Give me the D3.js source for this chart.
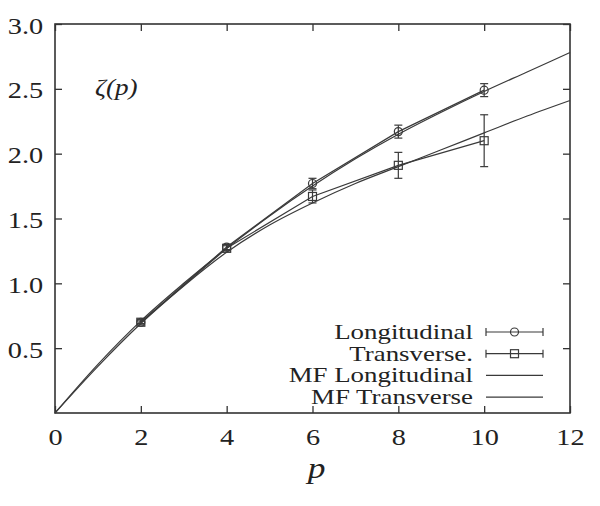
<!DOCTYPE html>
<head>
    <meta charset="utf-8">
    <style>
        body { margin: 0; background: white; }
        svg { background-color: white; }
        text { font-family: "Liberation Serif", "Times New Roman", serif; fill: #222; }
        .domain { display: none; }
        .tick line { stroke: #333; stroke-width: 1.3; }
    </style>
</head>
<body>
<script src="https://d3js.org/d3.v7.min.js"></script>
<script>

const width = 600;
const height = 506;
const plotLeft = 55, plotRight = 570, plotTop = 24, plotBottom = 413;
const stretch = 1.18;
const ink = '#333';

// measured points (p = 2..10)
const pVals = [2, 4, 6, 8, 10];
const longVals = [0.70, 1.28, 1.77, 2.17, 2.49];
const longErr = [0.01, 0.02, 0.04, 0.05, 0.05];
const transVals = [0.70, 1.27, 1.67, 1.91, 2.10];
const transErr = [0.02, 0.02, 0.05, 0.10, 0.20];

// MF curves
const mfP = [0, 1, 2, 3, 4, 5, 6, 7, 8, 9, 10, 11, 12];
const mfLong = [0, 0.375, 0.71, 1.00, 1.27, 1.52, 1.75, 1.96, 2.15, 2.32, 2.48, 2.63, 2.78];
const mfTrans = [0, 0.36, 0.69, 0.98, 1.24, 1.45, 1.62, 1.77, 1.90, 2.03, 2.16, 2.29, 2.41];

const xTicks = [0, 2, 4, 6, 8, 10, 12];
const yTicks = [0.5, 1.0, 1.5, 2.0, 2.5, 3.0];

const legendItems = ['Longitudinal', 'Transverse.', 'MF Longitudinal', 'MF Transverse'];

const x = d3.scaleLinear().domain([0, 12]).range([plotLeft, plotRight]);
const y = d3.scaleLinear().domain([0, 3]).range([plotBottom, plotTop]);

const svg = d3.select('body').append('svg')
    .attr('width', width)
    .attr('height', height);

// frame
svg.append('rect')
    .attr('x', plotLeft).attr('y', plotTop)
    .attr('width', plotRight - plotLeft).attr('height', plotBottom - plotTop)
    .attr('fill', 'none')
    .attr('stroke', ink)
    .attr('stroke-width', 1.6);

// axes, ticks pointing inward
const xAxis = svg.append('g')
    .attr('transform', `translate(0, ${plotBottom})`)
    .call(d3.axisBottom(x).tickValues(xTicks).tickSize(-7).tickPadding(15).tickFormat(d3.format('d')));
xAxis.selectAll('text')
    .style('font-size', '24px')
    .attr('transform', `scale(${stretch},1)`);

svg.append('g')
    .attr('transform', `translate(0, ${plotTop})`)
    .call(d3.axisTop(x).tickValues(xTicks).tickSize(-7).tickFormat(''));

const yAxis = svg.append('g')
    .attr('transform', `translate(${plotLeft}, 0)`)
    .call(d3.axisLeft(y).tickValues(yTicks).tickSize(-7).tickPadding(10).tickFormat(d3.format('.1f')));
yAxis.selectAll('text')
    .style('font-size', '24px')
    .attr('dy', '0.38em')
    .attr('transform', `scale(${stretch},1)`);

svg.append('g')
    .attr('transform', `translate(${plotRight}, 0)`)
    .call(d3.axisRight(y).tickValues(yTicks).tickSize(-7).tickFormat(''));

const lineStyle = sel => sel
    .attr('fill', 'none')
    .attr('stroke', '#3a3a3a')
    .attr('stroke-width', 1.2);

// MF curves
const curve = d3.line()
    .x(d => x(d[0]))
    .y(d => y(d[1]))
    .curve(d3.curveMonotoneX);

[mfLong, mfTrans].forEach(vals => {
    svg.append('path')
        .datum(mfP.map((p, i) => [p, vals[i]]))
        .attr('d', curve)
        .call(lineStyle);
});

// measured series with error bars
const straight = d3.line().x(d => x(d[0])).y(d => y(d[1]));

const drawSeries = (vals, errs, marker) => {
    const pts = pVals.map((p, i) => [p, vals[i], errs[i]]);
    svg.append('path').datum(pts).attr('d', straight).call(lineStyle);

    const g = svg.append('g');
    pts.forEach(d => {
        const cx = x(d[0]);
        const y1 = y(d[1] - d[2]);
        const y2 = y(d[1] + d[2]);
        g.append('line').attr('x1', cx).attr('x2', cx).attr('y1', y1).attr('y2', y2).call(lineStyle);
        [y1, y2].forEach(yy => {
            g.append('line').attr('x1', cx - 4).attr('x2', cx + 4).attr('y1', yy).attr('y2', yy).call(lineStyle);
        });
        marker(g, cx, y(d[1]));
    });
};

const circleMarker = (g, cx, cy) => {
    g.append('circle').attr('cx', cx).attr('cy', cy).attr('r', 4)
        .attr('fill', 'white').call(lineStyle);
};
const squareMarker = (g, cx, cy) => {
    g.append('rect').attr('x', cx - 4).attr('y', cy - 4).attr('width', 8).attr('height', 8)
        .attr('fill', 'none').call(lineStyle);
};

drawSeries(longVals, longErr, circleMarker);
drawSeries(transVals, transErr, squareMarker);

// legend
const legendRight = 473;
const sampleX1 = 486, sampleX2 = 543;
const legend = svg.append('g');
legendItems.forEach((name, i) => {
    const cy = 332 + i * 21.7;
    legend.append('text')
        .attr('transform', `translate(${legendRight}, ${cy + 7}) scale(1.28,1)`)
        .attr('text-anchor', 'end')
        .style('font-size', '21px')
        .text(name);
    legend.append('line')
        .attr('x1', sampleX1).attr('x2', sampleX2).attr('y1', cy).attr('y2', cy)
        .call(lineStyle);
    if (i < 2) {
        [sampleX1, sampleX2].forEach(xx => {
            legend.append('line').attr('x1', xx).attr('x2', xx).attr('y1', cy - 4).attr('y2', cy + 4).call(lineStyle);
        });
        (i === 0 ? circleMarker : squareMarker)(legend, (sampleX1 + sampleX2) / 2, cy);
    }
});

// labels
svg.append('text')
    .attr('transform', `translate(${x(6) + 4}, 478) scale(${stretch},1)`)
    .attr('text-anchor', 'middle')
    .style('font-size', '30px')
    .style('font-style', 'italic')
    .text('p');

svg.append('text')
    .attr('transform', `translate(95, 95) scale(${stretch},1)`)
    .style('font-size', '23px')
    .style('font-style', 'italic')
    .text('ζ(p)');

</script>
</body>
</html>
